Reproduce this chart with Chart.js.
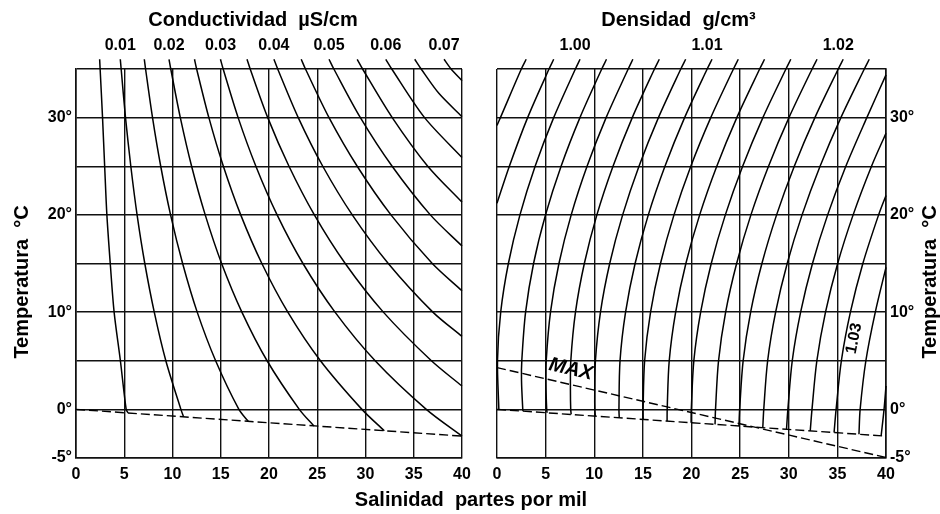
<!DOCTYPE html>
<html>
<head>
<meta charset="utf-8">
<script src="https://cdn.jsdelivr.net/npm/chart.js@4"></script>
<style>
html, body { margin: 0; padding: 0; background: #fff; }
#wrap { position: relative; width: 940px; height: 514px; }
#wrap canvas { position: absolute; top: 0; }
#canvas-left { left: 0; }
#canvas-right { left: 480px; }
</style>
</head>
<body>
<div id="wrap">
<canvas id="canvas-left" width="940" height="514"></canvas>
<canvas id="canvas-right" width="460" height="514"></canvas>
</div>
<script>
// salinity (partes por mil) on x, temperature (°C) on y
var yTickLabels = [-5, 0, 10, 20, 30];

// conductividad isolines, [salinity, temperature]
var condLevels = [0.005, 0.01, 0.015, 0.02, 0.025, 0.03, 0.035, 0.04, 0.045, 0.05, 0.055, 0.06, 0.065, 0.07];
var condLines = [
    [[2.45, 36], [2.5, 35], [2.75, 30], [2.97, 25], [3.2, 20], [3.55, 15], [3.95, 10], [4.6, 5], [5.2, 0], [5.4, -0.37]],
    [[4.59, 36], [4.68, 35], [5.13, 30], [5.68, 25], [6.33, 20], [7.13, 15], [8.11, 10], [9.31, 5], [10.87, 0], [11.15, -0.77]],
    [[7.08, 36], [7.21, 35], [7.93, 30], [8.78, 25], [9.8, 20], [11.05, 15], [12.56, 10], [14.47, 5], [16.88, 0], [17.85, -1.23]],
    [[9.64, 36], [9.82, 35], [10.81, 30], [11.98, 25], [13.39, 20], [15.09, 15], [17.19, 10], [19.8, 5], [23.14, 0], [24.65, -1.71]],
    [[12.28, 36], [12.5, 35], [13.77, 30], [15.27, 25], [17.07, 20], [19.26, 15], [21.95, 10], [25.33, 5], [29.63, 0], [31.95, -2.2]],
    [[14.97, 36], [15.25, 35], [16.8, 30], [18.64, 25], [20.84, 20], [23.52, 15], [26.84, 10], [31.0, 5], [36.3, 0], [40, -2.75]],
    [[17.72, 36], [18.05, 35], [19.87, 30], [22.07, 25], [24.7, 20], [27.9, 15], [31.85, 10], [36.83, 5], [40, 2.4]],
    [[20.51, 36], [20.9, 35], [23.03, 30], [25.57, 25], [28.63, 20], [32.36, 15], [36.98, 10], [40, 7.5]],
    [[23.34, 36], [23.78, 35], [26.22, 30], [29.14, 25], [32.64, 20], [36.92, 15], [40, 12.2]],
    [[26.22, 36], [26.72, 35], [29.47, 30], [32.76, 25], [36.72, 20], [40, 16.8]],
    [[29.14, 36], [29.7, 35], [32.77, 30], [36.45, 25], [40, 21.3]],
    [[32.1, 36], [32.72, 35], [36.12, 30], [40, 25.9]],
    [[35.1, 36], [35.77, 35], [37.6, 32.5], [40, 30.1]],
    [[38.14, 36], [38.87, 35], [40, 33.8]]
];

// densidad isolines
var densLevels = [0.996, 0.998, 1.000, 1.002, 1.004, 1.006, 1.008, 1.010, 1.012, 1.014, 1.016,
                  1.018, 1.020, 1.022, 1.024, 1.026, 1.028, 1.030, 1.032];
var densLines = [
    [[3.0, 36], [2.5, 35], [0.35, 30], [0, 29.2]],
    [[5.83, 36], [5.35, 35], [3.15, 30], [1.27, 25], [0, 21.2]],
    [[8.54, 36], [8.06, 35], [5.83, 30], [3.92, 25], [2.36, 20], [1.17, 15], [0.38, 10], [0.05, 5], [0.19, 0]],
    [[11.26, 36], [10.77, 35], [8.53, 30], [6.59, 25], [4.99, 20], [3.76, 15], [2.94, 10], [2.55, 5], [2.52, 3], [2.65, 0], [2.68, -0.18]],
    [[13.97, 36], [13.49, 35], [11.22, 30], [9.26, 25], [7.63, 20], [6.37, 15], [5.5, 10], [5.06, 5], [5.03, 2.5], [5.11, 0], [5.15, -0.35]],
    [[16.69, 36], [16.19, 35], [13.91, 30], [11.93, 25], [10.27, 20], [8.98, 15], [8.07, 10], [7.59, 5], [7.55, 2], [7.58, 0], [7.63, -0.52]],
    [[19.4, 36], [18.9, 35], [16.6, 30], [14.6, 25], [12.92, 20], [11.59, 15], [10.64, 10], [10.12, 5], [10.05, 1.5], [10.06, 0], [10.11, -0.69]],
    [[22.11, 36], [21.61, 35], [19.29, 30], [17.27, 25], [15.56, 20], [14.2, 15], [13.22, 10], [12.65, 5], [12.54, 0], [12.57, -0.86]],
    [[24.81, 36], [24.31, 35], [21.98, 30], [19.93, 25], [18.2, 20], [16.81, 15], [15.79, 10], [15.18, 5], [15.02, 0], [15.03, -1.03]],
    [[27.51, 36], [27.01, 35], [24.66, 30], [22.6, 25], [20.84, 20], [19.42, 15], [18.37, 10], [17.71, 5], [17.5, 0], [17.49, -1.2]],
    [[30.21, 36], [29.71, 35], [27.34, 30], [25.26, 25], [23.48, 20], [22.03, 15], [20.94, 10], [20.24, 5], [19.98, 0], [19.96, -1.37]],
    [[32.91, 36], [32.4, 35], [30.02, 30], [27.92, 25], [26.11, 20], [24.64, 15], [23.51, 10], [22.78, 5], [22.47, 0], [22.42, -1.54]],
    [[35.6, 36], [35.09, 35], [32.69, 30], [30.57, 25], [28.75, 20], [27.24, 15], [26.08, 10], [25.31, 5], [24.95, 0], [24.88, -1.71]],
    [[38.28, 36], [37.77, 35], [35.36, 30], [33.22, 25], [31.37, 20], [29.84, 15], [28.65, 10], [27.83, 5], [27.43, 0], [27.33, -1.88]],
    [[40, 34.4], [38.03, 30], [35.87, 25], [34.0, 20], [32.44, 15], [31.22, 10], [30.36, 5], [29.91, 0], [29.77, -2.05]],
    [[40, 28.4], [38.51, 25], [36.62, 20], [35.03, 15], [33.78, 10], [32.89, 5], [32.39, 0], [32.21, -2.21]],
    [[40, 22.0], [39.24, 20], [37.62, 15], [36.34, 10], [35.41, 5], [34.87, 0], [34.66, -2.38]],
    [[40, 14.6], [38.9, 10], [37.93, 5], [37.34, 0], [37.22, -2.56]],
    [[40, 2.4], [39.8, 0], [39.5, -2.72]]
];

// punto de congelacion and maximum density
var freezeLine = [[0, 0], [40, -2.75]];
var maxDensLine = [[0, 4.3], [40, -4.95]];

var FONT = '"Liberation Sans", Arial, Helvetica, sans-serif';
var INK = '#000';

function drawText(ctx, text, x, y, size, opt) {
    opt = opt || {};
    ctx.save();
    ctx.translate(x, y);
    if (opt.rot) ctx.rotate(opt.rot);
    ctx.font = (opt.italic ? 'italic ' : '') + 'bold ' + size + 'px ' + FONT;
    ctx.fillStyle = INK;
    ctx.textAlign = 'center';
    ctx.textBaseline = 'middle';
    ctx.fillText(text, 0, 0);
    ctx.restore();
}

// salinity of a curve at a given temperature (linear between read points)
function sAt(line, t) {
    for (var i = 0; i < line.length - 1; i++) {
        var a = line[i], b = line[i + 1];
        if ((t <= a[1] && t >= b[1]) || (t >= a[1] && t <= b[1])) {
            return a[0] + (b[0] - a[0]) * (t - a[1]) / (b[1] - a[1]);
        }
    }
    return line[0][0];
}

function curveSets(lines) {
    return lines.map(function (line) {
        return {
            data: line.map(function (p) { return { x: p[0], y: p[1] }; }),
            showLine: true,
            borderColor: INK,
            borderWidth: 1.5,
            pointRadius: 0,
            tension: 0.3,
            fill: false,
            clip: false
        };
    });
}

function dashedSet(line) {
    return {
        data: line.map(function (p) { return { x: p[0], y: p[1] }; }),
        showLine: true,
        borderColor: INK,
        borderWidth: 1.4,
        borderDash: [9, 4],
        pointRadius: 0,
        tension: 0,
        fill: false
    };
}

function makeScales(side) {
    var tickFont = { family: FONT, size: 16, weight: 'bold' };
    return {
        x: {
            type: 'linear',
            min: 0,
            max: 40,
            ticks: { stepSize: 5, padding: 7, color: INK, font: tickFont },
            grid: { color: '#111', lineWidth: 1.4, drawTicks: false },
            border: { color: '#111', width: 1.6 },
            afterFit: function (s) { s.height = 56; }
        },
        y: {
            type: 'linear',
            position: side,
            min: -5,
            max: 35,
            ticks: {
                stepSize: 5,
                padding: 4,
                color: INK,
                font: tickFont,
                callback: function (v) { return yTickLabels.indexOf(v) >= 0 ? v + '°' : ''; }
            },
            grid: { color: '#111', lineWidth: 1.4, drawTicks: false },
            border: { color: '#111', width: 1.6 },
            afterFit: function (s) { s.width = side === 'left' ? 76 : 54; }
        }
    };
}

var leftText = {
    id: 'leftText',
    afterDraw: function (chart) {
        var ctx = chart.ctx, a = chart.chartArea;
        var xs = chart.scales.x, ys = chart.scales.y;
        drawText(ctx, 'Conductividad  µS/cm', (a.left + a.right) / 2 - 16, 20, 20);
        drawText(ctx, 'Temperatura  °C', 22, 282, 20, { rot: -Math.PI / 2 });
        drawText(ctx, 'Salinidad  partes por mil', 471, 500, 20);
        condLines.forEach(function (line, i) {
            var lvl = condLevels[i];
            if (Math.round(lvl * 1000) % 10 !== 0) return;
            drawText(ctx, lvl.toFixed(2), xs.getPixelForValue(line[0][0]),
                ys.getPixelForValue(line[0][1]) - 14, 16);
        });
    }
};

var rightText = {
    id: 'rightText',
    afterDraw: function (chart) {
        var ctx = chart.ctx, a = chart.chartArea;
        var xs = chart.scales.x, ys = chart.scales.y;
        drawText(ctx, 'Densidad  g/cm³', (a.left + a.right) / 2 - 13, 20, 20);
        drawText(ctx, 'Temperatura  °C', 450, 282, 20, { rot: -Math.PI / 2 });

        densLines.forEach(function (line, i) {
            var lvl = densLevels[i];
            if (Math.round(lvl * 1000) % 10 !== 0) return;
            if (line[0][1] >= 35.5) {
                drawText(ctx, lvl.toFixed(2), xs.getPixelForValue(line[0][0]) - 5,
                    ys.getPixelForValue(line[0][1]) - 14, 16);
            } else if (lvl > 1.025) {
                // label written along the curve
                var t = 7.3;
                var hi = { x: xs.getPixelForValue(sAt(line, 10)), y: ys.getPixelForValue(10) };
                var lo = { x: xs.getPixelForValue(sAt(line, 5)), y: ys.getPixelForValue(5) };
                var ang = Math.atan2(hi.y - lo.y, hi.x - lo.x);
                drawText(ctx, lvl.toFixed(2), xs.getPixelForValue(sAt(line, t)) - 16,
                    ys.getPixelForValue(t), 16, { rot: ang });
            }
        });

        // MAX label over the maximum density line
        var p0 = { x: xs.getPixelForValue(maxDensLine[0][0]), y: ys.getPixelForValue(maxDensLine[0][1]) };
        var p1 = { x: xs.getPixelForValue(maxDensLine[1][0]), y: ys.getPixelForValue(maxDensLine[1][1]) };
        var rot = Math.atan2(p1.y - p0.y, p1.x - p0.x);
        var f = 7.5 / (maxDensLine[1][0] - maxDensLine[0][0]);
        drawText(ctx, 'MAX', p0.x + (p1.x - p0.x) * f + 1, p0.y + (p1.y - p0.y) * f - 15, 20,
            { rot: rot, italic: true });
    }
};

var common = {
    responsive: false,
    animation: false,
    plugins: { legend: { display: false }, tooltip: { enabled: false }, title: { display: false } }
};

var leftChart = new Chart(document.getElementById('canvas-left'), {
    type: 'scatter',
    data: { datasets: curveSets(condLines).concat([dashedSet(freezeLine)]) },
    options: Object.assign({}, common, {
        layout: { padding: { top: 69, right: 478, bottom: 0, left: 0 } },
        scales: makeScales('left')
    }),
    plugins: [leftText]
});

var rightChart = new Chart(document.getElementById('canvas-right'), {
    type: 'scatter',
    data: { datasets: curveSets(densLines).concat([dashedSet(freezeLine), dashedSet(maxDensLine)]) },
    options: Object.assign({}, common, {
        layout: { padding: { top: 69, right: 0, bottom: 0, left: 17 } },
        scales: makeScales('right')
    }),
    plugins: [rightText]
});
</script>
</body>
</html>
